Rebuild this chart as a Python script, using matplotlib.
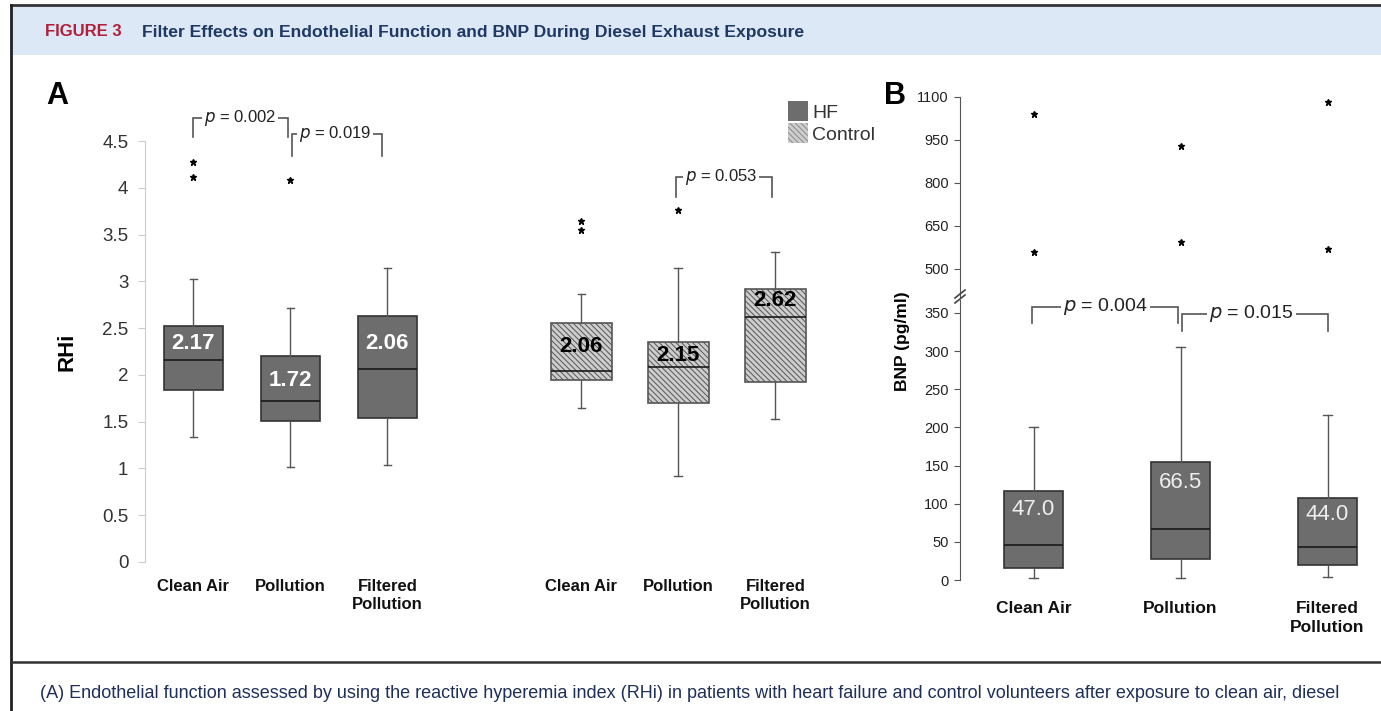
import matplotlib.pyplot as plt
from matplotlib.lines import Line2D
from matplotlib.patches import Rectangle, Patch

plt.rcParams['font.family'] = ['Liberation Sans', 'DejaVu Sans']
plt.rcParams['hatch.linewidth'] = 0.7

W, H = 1381, 711

# ---- data ----
groups = ["Clean Air", "Pollution", "Filtered\nPollution"]

# panel A, RHi, heart failure patients
hf_lo = [1.34, 1.02, 1.04]
hf_q1 = [1.84, 1.51, 1.54]
hf_med = [2.16, 1.72, 2.06]
hf_q3 = [2.52, 2.20, 2.63]
hf_hi = [3.03, 2.72, 3.14]
hf_out = [[4.12, 4.28], [4.08], []]
hf_text = ["2.17", "1.72", "2.06"]

# panel A, RHi, control volunteers
ct_lo = [1.65, 0.92, 1.53]
ct_q1 = [1.95, 1.70, 1.92]
ct_med = [2.04, 2.08, 2.62]
ct_q3 = [2.55, 2.35, 2.92]
ct_hi = [2.86, 3.14, 3.31]
ct_out = [[3.55, 3.65], [3.76], []]
ct_text = ["2.06", "2.15", "2.62"]

# panel B, BNP (pg/ml), heart failure patients
bnp_lo = [3, 3, 4]
bnp_q1 = [16, 27, 20]
bnp_med = [46, 67, 43]
bnp_q3 = [117, 155, 107]
bnp_hi = [201, 305, 216]
bnp_out = [[560, 1041], [595, 929], [570, 1083]]
bnp_text = ["47.0", "66.5", "44.0"]

pA = [["p = 0.002", 1, 2], ["p = 0.019", 2, 3], ["p = 0.053", 6, 7]]
pB = [["p = 0.004", 1, 2], ["p = 0.015", 2, 3]]

HATCH = "\\\\\\\\\\\\"


def rect(x0, y0, x1, y1):
    # pixel box -> figure fraction
    return [x0 / W, 1 - y1 / H, (x1 - x0) / W, (y1 - y0) / H]


def stats(lo, q1, med, q3, hi, out):
    return [dict(whislo=a, q1=b, med=c, q3=d, whishi=e, fliers=f)
            for a, b, c, d, e, f in zip(lo, q1, med, q3, hi, out)]


def draw_box(ax, st, pos, width, cap, face, edge, hatch=None):
    ax.bxp(st, positions=pos, widths=width, capwidths=cap, patch_artist=True,
           boxprops=dict(facecolor=face, edgecolor=edge, linewidth=1.2, hatch=hatch),
           medianprops=dict(color="#1a1a1a", linewidth=1.2),
           whiskerprops=dict(color="#555555", linewidth=1.0),
           capprops=dict(color="#555555", linewidth=1.0),
           flierprops=dict(marker="*", markersize=5, markerfacecolor="black",
                           markeredgecolor="black", linestyle="none"))


def bracket(ax, x1, x2, ytop, ybl, ybr, text, tx, size):
    ax.plot([x1, x1, x2, x2], [ybl, ytop, ytop, ybr], color="#555555", lw=1.2,
            clip_on=False, solid_joinstyle="miter")
    ax.text(tx, ytop, text.replace("p", "$\\it{p}$", 1), ha="center", va="center",
            fontsize=size, color="#222222", clip_on=False,
            bbox=dict(facecolor="white", edgecolor="none", pad=1.5))


fig = plt.figure(figsize=(W / 100, H / 100), dpi=100)

# ---- frame, header, caption ----
fig.patches.append(Rectangle((12 / W, 1 - 55 / H), 1 - 12 / W, 48 / H,
                             transform=fig.transFigure, facecolor="#dde8f6",
                             edgecolor="none", zorder=0))
fig.lines.append(Line2D([11 / W, 1], [1 - 5 / H] * 2, transform=fig.transFigure,
                        color="#333333", lw=2))
fig.lines.append(Line2D([11 / W] * 2, [0, 1 - 5 / H], transform=fig.transFigure,
                        color="#222222", lw=2))
fig.lines.append(Line2D([11 / W, 1], [1 - 662 / H] * 2, transform=fig.transFigure,
                        color="#333333", lw=1.8))
fig.text(45 / W, 1 - 32 / H, "FIGURE 3", color="#b0203a", fontsize=12,
         fontweight="bold", va="center")
fig.text(142 / W, 1 - 32 / H,
         "Filter Effects on Endothelial Function and BNP During Diesel Exhaust Exposure",
         color="#1f3864", fontsize=12.6, fontweight="bold", va="center")
fig.text(40 / W, 1 - 693 / H,
         "(A) Endothelial function assessed by using the reactive hyperemia index (RHi) in "
         "patients with heart failure and control volunteers after exposure to clean air, diesel",
         color="#1f2f5a", fontsize=13, va="center")

# ---- panel A ----
axA = fig.add_axes(rect(145, 141, 882, 562))
draw_box(axA, stats(hf_lo, hf_q1, hf_med, hf_q3, hf_hi, hf_out), [1, 2, 3],
         0.61, 0.08, "#6d6d6d", "#333333")
draw_box(axA, stats(ct_lo, ct_q1, ct_med, ct_q3, ct_hi, ct_out), [5, 6, 7],
         0.63, 0.08, "#cdcdcd", "#555555", hatch=HATCH)
axA.set_xlim(0.5, 8.1)
axA.set_ylim(0, 4.5)
axA.set_yticks([0, 0.5, 1, 1.5, 2, 2.5, 3, 3.5, 4, 4.5])
axA.set_yticklabels(["0", "0.5", "1", "1.5", "2", "2.5", "3", "3.5", "4", "4.5"])
axA.set_xticks([1, 2, 3, 5, 6, 7])
axA.set_xticklabels(groups + groups, fontweight="bold", fontsize=12, linespacing=1.3)
for s in ["top", "right", "bottom"]:
    axA.spines[s].set_visible(False)
axA.spines["left"].set_color("#cccccc")
axA.tick_params(axis="y", colors="#cccccc", labelcolor="#333333", labelsize=13.5,
                length=5, pad=7)
axA.tick_params(axis="x", length=0, pad=12, labelcolor="#111111")
for i, t in enumerate(hf_text):
    axA.text(i + 1, [2.34, 1.94, 2.34][i], t, ha="center", va="center",
             color="white", fontsize=16, fontweight="bold")
for i, t in enumerate(ct_text):
    axA.text(i + 5, [2.30, 2.21, 2.80][i], t, ha="center", va="center",
             color="black", fontsize=16, fontweight="bold")
bracket(axA, 1.0, 1.97, 4.75, 4.54, 4.54, pA[0][0], 1.48, 12)
bracket(axA, 2.02, 2.94, 4.57, 4.34, 4.34, pA[1][0], 2.46, 12)
bracket(axA, 5.98, 6.97, 4.11, 3.90, 3.90, pA[2][0], 6.44, 12)
axA.legend(handles=[Patch(facecolor="#6d6d6d", edgecolor="none", label="HF"),
                    Patch(facecolor="#cdcdcd", edgecolor="#8a8a8a", lw=0,
                          hatch=HATCH, label="Control")],
           loc="upper left", bbox_to_anchor=(788 / W, 1 - 101 / H),
           bbox_transform=fig.transFigure, frameon=False, fontsize=14,
           handlelength=1.05, handleheight=1.2, handletextpad=0.2,
           labelspacing=0.1, borderpad=0, borderaxespad=0, labelcolor="#333333")
fig.text(67 / W, 1 - 352 / H, "RHi", rotation=90, fontsize=16, fontweight="bold",
         ha="center", va="center")
fig.text(46 / W, 1 - 96 / H, "A", fontsize=22, fontweight="bold", va="center")

# ---- panel B (broken axis) ----
bst = stats(bnp_lo, bnp_q1, bnp_med, bnp_q3, bnp_hi, bnp_out)
axL = fig.add_axes(rect(960, 300, 1379, 580))
axU = fig.add_axes(rect(960, 97, 1379, 297))
for ax in (axL, axU):
    draw_box(ax, bst, [1, 2, 3], 0.40, 0.06, "#6d6d6d", "#333333")
    ax.set_xlim(0.5, 3.35)
    for s in ["top", "right", "bottom"]:
        ax.spines[s].set_visible(False)
    ax.spines["left"].set_color("#555555")
    ax.tick_params(axis="y", colors="#555555", labelcolor="#222222", labelsize=10.5,
                   length=4, pad=4)
axL.set_ylim(0, 367)
axL.set_yticks([0, 50, 100, 150, 200, 250, 300, 350])
axU.set_ylim(402, 1100)
axU.set_yticks([500, 650, 800, 950, 1100])
axU.set_xticks([])
axL.set_xticks([1, 2, 3])
axL.set_xticklabels(groups, fontweight="bold", fontsize=12.5, linespacing=1.35)
axL.tick_params(axis="x", length=0, pad=15, labelcolor="#111111")
for i, t in enumerate(bnp_text):
    axL.text(i + 1, [93, 128, 86][i], t, ha="center", va="center",
             color="#eeeeee", fontsize=16)
bracket(axL, 0.99, 1.98, 358, 337, 337, pB[0][0], 1.49, 14)
bracket(axL, 2.01, 3.0, 349, 326, 326, pB[1][0], 2.48, 14)
for dy in (0, 5):
    fig.lines.append(Line2D([955 / W, 965 / W], [1 - (303 - dy) / H, 1 - (295 - dy) / H],
                            transform=fig.transFigure, color="#444444", lw=1.2))
fig.text(902 / W, 1 - 341 / H, "BNP (pg/ml)", rotation=90, fontsize=12.5,
         fontweight="bold", ha="center", va="center")
fig.text(884 / W, 1 - 96 / H, "B", fontsize=22, fontweight="bold", va="center")

fig.savefig("out.png", dpi=100)
